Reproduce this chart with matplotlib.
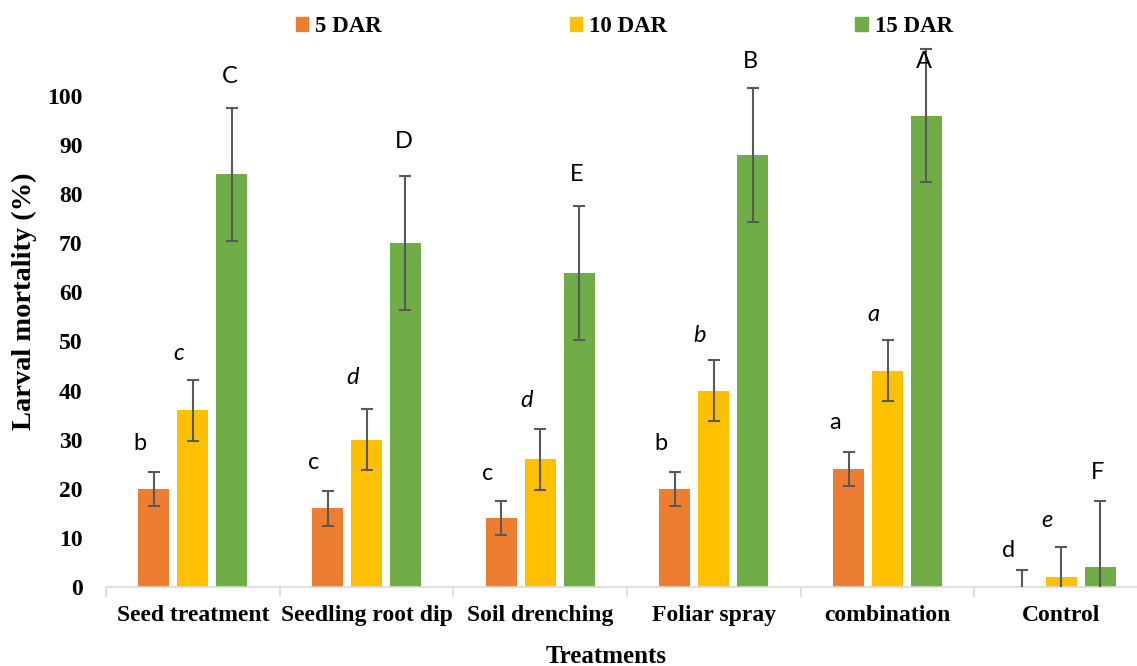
import numpy as np
import matplotlib
matplotlib.use('Agg')
import matplotlib.pyplot as plt
from matplotlib.patches import Patch

# - Data
treatments = ['Seed treatment', 'Seedling root dip', 'Soil drenching',
              'Foliar spray', 'combination', 'Control']
series = ['5 DAR', '10 DAR', '15 DAR']
dar_5 = [20, 16, 14, 20, 24, 0]
dar_10 = [36, 30, 26, 40, 44, 2]
dar_15 = [84, 70, 64, 88, 96, 4]
err_5 = [3.5, 3.5, 3.5, 3.5, 3.5, 3.5]
err_10 = [6.2, 6.2, 6.2, 6.2, 6.2, 6.2]
err_15 = [13.6, 13.6, 13.6, 13.6, 13.6, 13.6]
letters_5 = ['b', 'c', 'c', 'b', 'a', 'd']
letters_10 = ['c', 'd', 'd', 'b', 'a', 'e']
letters_15 = ['C', 'D', 'E', 'B', 'A', 'F']
# - height of the significance letters (data units)
label_y_5 = [29.3, 25.3, 23.2, 29.3, 33.4, 7.5]
label_y_10 = [47.6, 42.6, 38.0, 51.3, 55.4, 13.6]
label_y_15 = [104.0, 90.7, 84.1, 107.0, 107.0, 23.4]
y_ticks = [0, 10, 20, 30, 40, 50, 60, 70, 80, 90, 100]

# - Style
colors = ['#ED7D31', '#FFC000', '#70AD47']
label_dx = [-10, -10, -1.5]     # letter offset from bar centre (points)
label_style = ['normal', 'italic', 'normal']
serif = ['Liberation Serif', 'DejaVu Serif']
sans = ['Lato', 'Open Sans', 'DejaVu Sans']

values = [dar_5, dar_10, dar_15]
errors = [err_5, err_10, err_15]
letters = [letters_5, letters_10, letters_15]
label_y = [label_y_5, label_y_10, label_y_15]

fig = plt.figure(figsize=(11.37, 6.66), dpi=100)
# - axes extends slightly past the right edge, as in the original crop
ax = fig.add_axes([106 / 1137, 79 / 666, 1042 / 1137, 550 / 666])

x = np.arange(len(treatments))
width = 0.178
step = 0.224
for i in range(3):
    xi = x + (i - 1) * step
    ax.bar(xi, values[i], width=width, color=colors[i], zorder=2)
    ax.errorbar(xi, values[i], yerr=errors[i], fmt='none',
                ecolor='#595959', elinewidth=1.5, capsize=4.3,
                capthick=1.5, zorder=3)
    for xx, yy, lab in zip(xi, label_y[i], letters[i]):
        ax.annotate(lab, (xx, yy), xytext=(label_dx[i], 0),
                    textcoords='offset points', ha='center', va='center',
                    fontsize=17, family=sans, style=label_style[i])

ax.set_xlim(-0.5, len(treatments) - 0.5)
ax.set_ylim(0, 112)
ax.set_yticks(y_ticks)
ax.set_yticklabels([str(t) for t in y_ticks], family=serif,
                   weight='bold', fontsize=17)
ax.set_xticks(x)
ax.set_xticklabels(treatments, family=serif, weight='bold', fontsize=17)
ax.set_xticks(np.arange(len(treatments) + 1) - 0.5, minor=True)
ax.tick_params(axis='y', length=0, pad=17)
ax.tick_params(axis='x', which='major', length=0, pad=13)
ax.tick_params(axis='x', which='minor', length=7, width=1.2,
               color='#d9d9d9')

for s in ['top', 'right', 'left']:
    ax.spines[s].set_visible(False)
ax.spines['bottom'].set_color('#d9d9d9')
ax.spines['bottom'].set_linewidth(1.2)

ax.set_ylabel('Larval mortality (%)', family=serif, weight='bold',
              fontsize=20.5)
ax.yaxis.set_label_coords(-0.066, 0.52)
ax.set_xlabel('Treatments', family=serif, weight='bold', fontsize=18)
ax.xaxis.set_label_coords(0.48, -0.105)

handles = [Patch(color=c, label=s) for c, s in zip(colors, series)]
fig.legend(handles=handles, loc='center', ncol=3, frameon=False,
           bbox_to_anchor=(0.549, 1 - 27 / 666),
           prop={'family': serif, 'weight': 'bold', 'size': 16.5},
           handlelength=0.55, handleheight=0.55, handletextpad=0.3,
           columnspacing=8.2)

plt.savefig('out.png', dpi=100)
plt.close()
